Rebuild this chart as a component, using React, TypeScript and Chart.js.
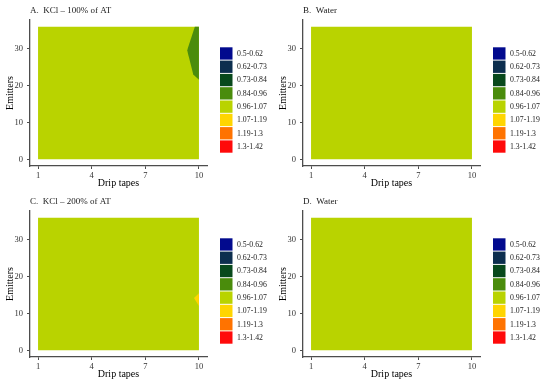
import React, { useEffect, useRef } from "react";
import { Chart, registerables } from "chart.js";

Chart.register(...registerables);

// ---------- data ----------
const xTickValues = [1, 4, 7, 10];
const yTickValues = [0, 10, 20, 30];
const xExtent = [1, 10];
const yExtent = [0, 36];

const classLabels = [
  "0.5-0.62",
  "0.62-0.73",
  "0.73-0.84",
  "0.84-0.96",
  "0.96-1.07",
  "1.07-1.19",
  "1.19-1.3",
  "1.3-1.42",
];
const classColors = [
  "#020a8e",
  "#0c2e4e",
  "#08491c",
  "#4a8c0c",
  "#b9d300",
  "#ffd500",
  "#ff7300",
  "#ff0a0a",
];

const panelTitles = [
  "A.  KCl \u2013 100% of AT",
  "B.  Water",
  "C.  KCl \u2013 200% of AT",
  "D.  Water",
];

// background class of every panel (index into classLabels)
const baseClass = 4;

// contour patches: upper and lower boundaries (Drip tape, Emitter)
const panelAPatchClass = 3;
const panelAPatchUpper = [
  { x: 9.34, y: 29.6 },
  { x: 9.77, y: 36 },
  { x: 10, y: 36 },
];
const panelAPatchLower = [
  { x: 9.34, y: 29.6 },
  { x: 9.68, y: 23.0 },
  { x: 10, y: 21.6 },
];

const panelCPatchClass = 5;
const panelCPatchUpper = [
  { x: 9.72, y: 14.2 },
  { x: 10, y: 15.5 },
];
const panelCPatchLower = [
  { x: 9.72, y: 14.2 },
  { x: 10, y: 12.0 },
];

type Patch = { cls: number; upper: { x: number; y: number }[]; lower: { x: number; y: number }[] };

const panelPatches: Patch[][] = [
  [{ cls: panelAPatchClass, upper: panelAPatchUpper, lower: panelAPatchLower }],
  [],
  [{ cls: panelCPatchClass, upper: panelCPatchUpper, lower: panelCPatchLower }],
  [],
];

// ---------- chart ----------
const SERIF = '"Liberation Serif", "Times New Roman", serif';
const AXIS_COLOR = "#4d4d4d";
const W = 275;
const H = 193;

function buildDatasets(patches: Patch[]) {
  const ds: any[] = [];
  patches.forEach((p) => {
    ds.push({
      data: p.upper,
      showLine: true,
      fill: "+1",
      backgroundColor: classColors[p.cls],
      borderColor: "transparent",
      borderWidth: 0,
      pointRadius: 0,
      tension: 0,
    });
    ds.push({
      data: p.lower,
      showLine: true,
      fill: false,
      backgroundColor: classColors[p.cls],
      borderColor: "transparent",
      borderWidth: 0,
      pointRadius: 0,
      tension: 0,
    });
  });
  ds.push({
    data: [
      { x: xExtent[0], y: yExtent[1] },
      { x: xExtent[1], y: yExtent[1] },
    ],
    showLine: true,
    fill: { value: yExtent[0] },
    backgroundColor: classColors[baseClass],
    borderColor: "transparent",
    borderWidth: 0,
    pointRadius: 0,
    tension: 0,
  });
  return ds;
}

function Panel({ index, left, top }: { index: number; left: number; top: number }) {
  const ref = useRef<HTMLCanvasElement | null>(null);
  useEffect(() => {
    if (!ref.current) return;
    const decor = {
      id: "decor" + index,
      afterDraw(chart: any) {
        const ctx = chart.ctx;
        const area = chart.chartArea;
        ctx.save();
        ctx.fillStyle = "#1a1a1a";
        ctx.font = `9px ${SERIF}`;
        ctx.textBaseline = "alphabetic";
        ctx.textAlign = "left";
        ctx.fillText(panelTitles[index], area.left, 12.5);
        const lx = area.right + 13;
        const ly = area.top + 27.3;
        const step = 13.3;
        classLabels.forEach((lab, i) => {
          const y = ly + i * step;
          ctx.fillStyle = classColors[i];
          ctx.fillRect(lx, y, 12.5, 12.3);
          ctx.fillStyle = "#1a1a1a";
          ctx.font = `7.8px ${SERIF}`;
          ctx.textBaseline = "middle";
          ctx.fillText(lab, lx + 17, y + 6.4);
        });
        ctx.restore();
      },
    };
    const chart = new Chart(ref.current, {
      type: "scatter",
      data: { datasets: buildDatasets(panelPatches[index]) },
      options: {
        animation: false,
        responsive: false,
        devicePixelRatio: 1,
        layout: { padding: { top: 20, right: 68, left: 0, bottom: 0 } },
        plugins: {
          legend: { display: false },
          tooltip: { enabled: false },
          title: { display: false },
        },
        scales: {
          x: {
            type: "linear",
            min: 0.55,
            max: 10.45,
            afterBuildTicks: (s: any) => {
              s.ticks = xTickValues.map((v) => ({ value: v }));
            },
            afterFit: (s: any) => {
              s.height = 27;
            },
            grid: {
              display: true,
              drawOnChartArea: false,
              drawTicks: true,
              tickLength: 3,
              color: AXIS_COLOR,
              lineWidth: 1,
            },
            border: { display: true, color: AXIS_COLOR, width: 1.3 },
            ticks: {
              padding: 2,
              color: "#333333",
              font: { family: SERIF, size: 8.5 },
              maxRotation: 0,
              autoSkip: false,
            },
            title: {
              display: true,
              text: "Drip tapes",
              color: "#000000",
              font: { family: SERIF, size: 10 },
              padding: { top: 0, bottom: 4 },
            },
          },
          y: {
            type: "linear",
            min: -1.8,
            max: 37.8,
            afterBuildTicks: (s: any) => {
              s.ticks = yTickValues.map((v) => ({ value: v }));
            },
            afterFit: (s: any) => {
              s.width = 30;
            },
            grid: {
              display: true,
              drawOnChartArea: false,
              drawTicks: true,
              tickLength: 3,
              color: AXIS_COLOR,
              lineWidth: 1,
            },
            border: { display: true, color: AXIS_COLOR, width: 1.3 },
            ticks: {
              padding: 4,
              color: "#333333",
              font: { family: SERIF, size: 8.5 },
              autoSkip: false,
            },
            title: {
              display: true,
              text: "Emitters",
              color: "#000000",
              font: { family: SERIF, size: 10 },
              padding: { top: 4, bottom: 0 },
            },
          },
        },
      } as any,
      plugins: [decor],
    });
    return () => chart.destroy();
  }, [index]);
  return (
    <canvas
      ref={ref}
      width={W}
      height={H}
      style={{ position: "absolute", left, top, width: W, height: H }}
    />
  );
}

export default function App() {
  return (
    <div
      style={{
        position: "fixed",
        left: 0,
        top: 0,
        width: 550,
        height: 386,
        background: "#ffffff",
        overflow: "hidden",
      }}
    >
      <Panel index={0} left={0} top={0} />
      <Panel index={1} left={273} top={0} />
      <Panel index={2} left={0} top={191} />
      <Panel index={3} left={273} top={191} />
    </div>
  );
}
